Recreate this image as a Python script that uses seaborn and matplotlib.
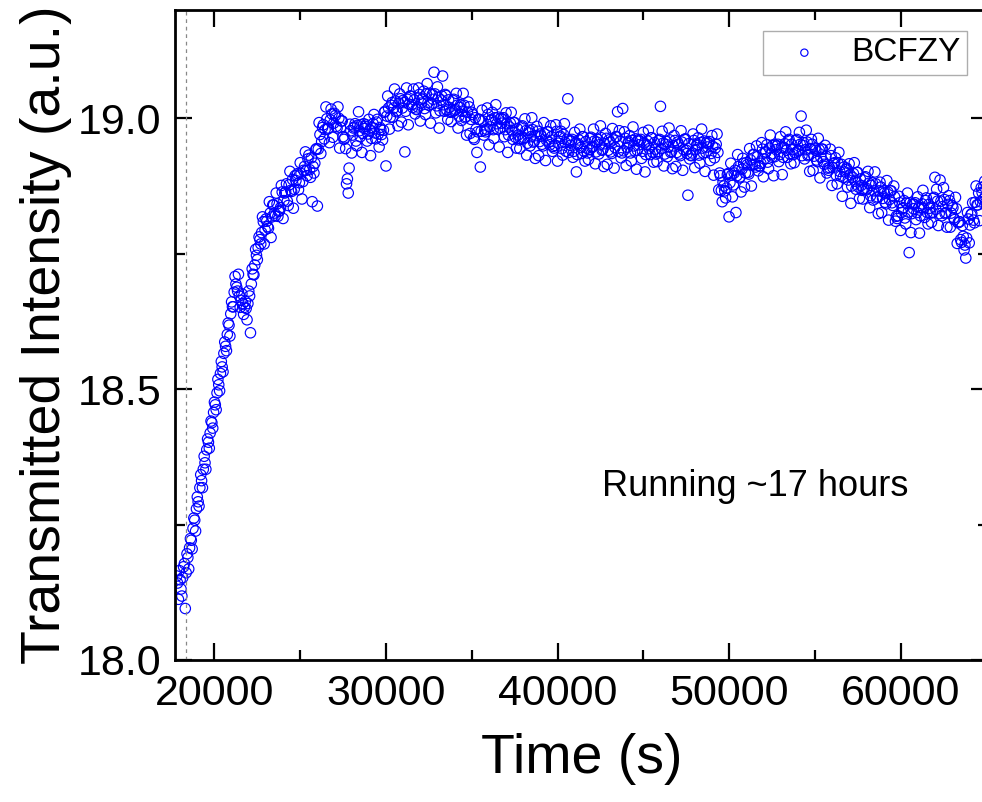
import numpy as np
import pandas as pd
import matplotlib
matplotlib.use("Agg")
import matplotlib.pyplot as plt
from matplotlib.ticker import MultipleLocator, FormatStrFormatter
import seaborn as sns

# Transmitted intensity.
# "spread" readings: every 100 s from 17800 s (the scattered edge of the band)
# "core" readings:   every 100 s from 17850 s (the dense middle of the band)
step = 100

spread_rise = [  # 17800 - 22700 s
    18.155, 18.112, 18.148, 18.118, 18.172, 18.095, 18.196, 18.168, 18.224, 18.205,
    18.262, 18.238, 18.301, 18.284, 18.342, 18.318, 18.376, 18.352, 18.408, 18.391,
    18.441, 18.428, 18.476, 18.462, 18.518, 18.497, 18.551, 18.532, 18.587, 18.571,
    18.622, 18.598, 18.661, 18.652, 18.708, 18.688, 18.712, 18.651, 18.676, 18.638,
    18.662, 18.628, 18.681, 18.604, 18.722, 18.711, 18.758, 18.739, 18.781, 18.768,
]
spread_mid = [  # 22800 - 40700 s
    18.818, 18.768, 18.814, 18.800, 18.846, 18.780, 18.840, 18.825, 18.862, 18.819,
    18.830, 18.876, 18.815, 18.862, 18.879, 18.839, 18.902, 18.865, 18.834, 18.894,
    18.895, 18.868, 18.918, 18.851, 18.904, 18.938, 18.894, 18.932, 18.891, 18.846,
    18.899, 18.942, 18.838, 18.992, 18.935, 18.983, 18.962, 19.021, 18.980, 18.955,
    19.017, 18.965, 19.009, 18.985, 19.021, 18.945, 18.995, 18.966, 18.964, 18.879,
    18.862, 18.989, 18.936, 18.982, 18.990, 18.949, 19.012, 18.966, 18.937, 18.990,
    18.985, 18.958, 18.998, 18.931, 18.983, 19.007, 18.962, 18.998, 18.947, 18.979,
    18.960, 19.011, 18.912, 19.041, 18.980, 19.024, 19.002, 19.054, 19.012, 18.986,
    19.045, 18.993, 19.033, 18.938, 19.056, 18.988, 19.041, 19.025, 19.054, 19.008,
    19.016, 19.056, 18.995, 19.035, 19.050, 19.007, 19.064, 19.024, 18.991, 19.044,
    19.085, 19.010, 19.058, 18.982, 19.034, 19.078, 19.013, 19.042, 18.998, 19.020,
    18.994, 19.033, 19.014, 19.046, 18.982, 19.020, 18.996, 19.046, 19.001, 18.969,
    19.030, 18.972, 19.011, 18.964, 19.001, 18.937, 18.998, 18.910, 19.015, 18.969,
    18.975, 19.019, 18.951, 18.996, 19.011, 18.963, 19.025, 18.980, 18.947, 19.000,
    18.998, 18.966, 19.010, 18.937, 18.984, 19.011, 18.961, 18.992, 18.945, 18.969,
    18.944, 18.984, 18.962, 18.999, 18.932, 18.973, 18.949, 19.001, 18.956, 18.926,
    18.985, 18.931, 18.971, 18.952, 18.992, 18.922, 18.975, 18.956, 18.986, 18.939,
    18.945, 18.988, 18.921, 18.965, 18.976, 18.932, 18.990, 18.939, 19.036, 18.959,
]
spread_late = [  # 40800 - 65000 s
    18.958, 18.928, 18.974, 18.901, 18.953, 18.980, 18.935, 18.966, 18.921, 18.945,
    18.924, 18.963, 18.946, 18.980, 18.916, 18.956, 18.934, 18.986, 18.941, 18.911,
    18.972, 18.915, 18.960, 18.938, 18.981, 18.908, 18.966, 19.012, 18.977, 18.927,
    19.018, 18.975, 18.913, 18.954, 18.968, 18.921, 18.984, 18.940, 18.906, 18.960,
    18.958, 18.926, 18.974, 18.901, 18.951, 18.978, 18.933, 18.964, 18.919, 18.943,
    18.920, 18.959, 19.022, 18.976, 18.912, 18.952, 18.929, 18.982, 18.937, 18.907,
    18.968, 18.911, 18.956, 18.934, 18.977, 18.904, 18.961, 18.941, 18.858, 18.925,
    18.931, 18.971, 18.909, 18.950, 18.964, 18.917, 18.980, 18.936, 18.902, 18.956,
    18.954, 18.922, 18.968, 18.895, 18.945, 18.971, 18.868, 18.894, 18.846, 18.875,
    18.853, 18.896, 18.818, 18.917, 18.855, 18.899, 18.826, 18.933, 18.890, 18.864,
    18.926, 18.873, 18.918, 18.900, 18.944, 18.875, 18.933, 18.915, 18.949, 18.903,
    18.912, 18.955, 18.892, 18.936, 18.951, 18.907, 18.969, 18.928, 18.894, 18.951,
    18.949, 18.920, 18.966, 18.896, 18.946, 18.975, 18.928, 18.961, 18.916, 18.942,
    18.918, 18.959, 18.939, 18.974, 19.004, 18.950, 18.925, 18.978, 18.931, 18.902,
    18.961, 18.904, 18.945, 18.923, 18.963, 18.890, 18.943, 18.920, 18.950, 18.899,
    18.904, 18.943, 18.876, 18.916, 18.927, 18.879, 18.937, 18.893, 18.856, 18.910,
    18.905, 18.873, 18.916, 18.843, 18.891, 18.918, 18.869, 18.900, 18.852, 18.876,
    18.851, 18.890, 18.868, 18.902, 18.835, 18.876, 18.849, 18.901, 18.853, 18.824,
    18.882, 18.826, 18.866, 18.845, 18.885, 18.812, 18.866, 18.844, 18.875, 18.810,
    18.815, 18.856, 18.793, 18.833, 18.848, 18.805, 18.862, 18.752, 18.789, 18.842,
    18.841, 18.813, 18.855, 18.788, 18.835, 18.867, 18.817, 18.853, 18.805, 18.834,
    18.808, 18.852, 18.891, 18.869, 18.802, 18.886, 18.820, 18.872, 18.824, 18.799,
    18.857, 18.799, 18.839, 18.816, 18.854, 18.769, 18.809, 18.776, 18.802, 18.757,
    18.742, 18.826, 18.770, 18.822, 18.844, 18.807, 18.875, 18.840, 18.811, 18.872,
    18.850, 18.884, 18.838,
]
core_early = [  # 17850 - 40750 s
    18.142, 18.165, 18.131, 18.152, 18.178, 18.161, 18.189, 18.207, 18.221, 18.243,
    18.258, 18.279, 18.292, 18.318, 18.331, 18.352, 18.364, 18.388, 18.402, 18.419,
    18.438, 18.457, 18.471, 18.493, 18.508, 18.529, 18.541, 18.566, 18.579, 18.601,
    18.618, 18.639, 18.652, 18.679, 18.694, 18.681, 18.672, 18.664, 18.658, 18.651,
    18.649, 18.658, 18.672, 18.694, 18.712, 18.729, 18.747, 18.761, 18.776, 18.789,
    18.809, 18.794, 18.810, 18.797, 18.825, 18.818, 18.840, 18.820, 18.842, 18.828,
    18.835, 18.864, 18.848, 18.864, 18.847, 18.877, 18.867, 18.887, 18.869, 18.885,
    18.898, 18.881, 18.898, 18.883, 18.911, 18.904, 18.925, 18.905, 18.927, 18.911,
    18.917, 18.944, 18.943, 18.970, 18.957, 18.988, 18.979, 18.999, 18.982, 18.997,
    19.008, 18.991, 19.005, 18.982, 19.000, 18.983, 18.995, 18.961, 18.944, 18.888,
    18.908, 18.977, 18.969, 18.984, 18.958, 18.987, 18.977, 18.988, 18.972, 18.981,
    18.988, 18.971, 18.978, 18.963, 18.990, 18.973, 18.993, 18.971, 18.983, 18.970,
    18.978, 19.013, 19.004, 19.019, 19.002, 19.029, 19.019, 19.032, 19.014, 19.028,
    19.036, 19.019, 19.029, 19.013, 19.035, 19.026, 19.041, 19.020, 19.034, 19.017,
    19.021, 19.044, 19.028, 19.037, 19.018, 19.045, 19.029, 19.046, 19.026, 19.035,
    19.045, 19.023, 19.038, 19.014, 19.041, 19.025, 19.044, 19.015, 19.034, 19.011,
    19.012, 19.035, 19.016, 19.024, 19.004, 19.025, 19.013, 19.024, 19.003, 19.011,
    19.021, 18.998, 19.007, 18.961, 18.980, 18.975, 18.998, 18.976, 18.995, 18.978,
    18.980, 19.007, 18.984, 18.998, 18.979, 19.001, 18.990, 19.002, 18.982, 18.991,
    19.001, 18.979, 18.990, 18.969, 18.991, 18.977, 18.992, 18.965, 18.981, 18.960,
    18.962, 18.986, 18.964, 18.977, 18.954, 18.978, 18.966, 18.979, 18.958, 18.968,
    18.976, 18.957, 18.967, 18.949, 18.971, 18.960, 18.975, 18.951, 18.966, 18.948,
    18.950, 18.976, 18.954, 18.967, 18.944, 18.970, 18.955, 18.961, 18.937, 18.950,
]
core_late = [  # 40850 - 64950 s
    18.961, 18.939, 18.954, 18.933, 18.960, 18.946, 18.966, 18.939, 18.957, 18.936,
    18.942, 18.965, 18.948, 18.958, 18.938, 18.961, 18.951, 18.964, 18.943, 18.953,
    18.963, 18.941, 18.956, 18.935, 18.960, 18.946, 18.966, 18.939, 18.957, 18.936,
    18.940, 18.963, 18.946, 18.956, 18.936, 18.959, 18.949, 18.962, 18.941, 18.951,
    18.961, 18.939, 18.954, 18.933, 18.958, 18.944, 18.964, 18.937, 18.955, 18.934,
    18.938, 18.961, 18.944, 18.954, 18.934, 18.957, 18.947, 18.960, 18.939, 18.949,
    18.959, 18.937, 18.952, 18.931, 18.956, 18.942, 18.962, 18.935, 18.953, 18.932,
    18.936, 18.959, 18.942, 18.952, 18.932, 18.955, 18.945, 18.958, 18.937, 18.947,
    18.957, 18.935, 18.948, 18.927, 18.952, 18.937, 18.899, 18.867, 18.882, 18.866,
    18.871, 18.898, 18.881, 18.895, 18.877, 18.904, 18.894, 18.911, 18.892, 18.906,
    18.917, 18.899, 18.914, 18.897, 18.923, 18.913, 18.933, 18.910, 18.929, 18.912,
    18.917, 18.943, 18.925, 18.938, 18.919, 18.945, 18.934, 18.950, 18.929, 18.942,
    18.952, 18.933, 18.946, 18.928, 18.953, 18.941, 18.959, 18.934, 18.952, 18.933,
    18.936, 18.961, 18.941, 18.952, 18.931, 18.955, 18.942, 18.956, 18.933, 18.944,
    18.952, 18.930, 18.941, 18.920, 18.942, 18.928, 18.943, 18.915, 18.930, 18.908,
    18.909, 18.931, 18.909, 18.918, 18.895, 18.917, 18.902, 18.915, 18.891, 18.901,
    18.908, 18.886, 18.896, 18.875, 18.898, 18.884, 18.900, 18.873, 18.888, 18.867,
    18.869, 18.892, 18.870, 18.880, 18.857, 18.881, 18.866, 18.879, 18.855, 18.866,
    18.873, 18.852, 18.862, 18.842, 18.864, 18.850, 18.866, 18.839, 18.855, 18.819,
    18.820, 18.844, 18.826, 18.835, 18.816, 18.843, 18.827, 18.844, 18.824, 18.833,
    18.844, 18.826, 18.835, 18.820, 18.842, 18.833, 18.848, 18.826, 18.841, 18.825,
    18.826, 18.854, 18.832, 18.847, 18.824, 18.847, 18.837, 18.850, 18.826, 18.841,
    18.848, 18.825, 18.835, 18.813, 18.833, 18.807, 18.809, 18.771, 18.782, 18.766,
    18.779, 18.814, 18.803, 18.824, 18.812, 18.845, 18.840, 18.862, 18.846, 18.863,
    18.874, 18.856,
]

spread = spread_rise + spread_mid + spread_late
core = core_early + core_late
df = pd.concat([
    pd.DataFrame({"Time": 17800 + step * np.arange(len(spread)), "Intensity": spread}),
    pd.DataFrame({"Time": 17850 + step * np.arange(len(core)), "Intensity": core}),
]).sort_values("Time")

start_line = 18350  # dashed line at the start of the run

sns.set_theme(style="ticks")
plt.rcParams["font.family"] = ["Liberation Sans", "DejaVu Sans"]
for key in ["text.color", "axes.labelcolor", "xtick.color", "ytick.color", "axes.edgecolor"]:
    plt.rcParams[key] = "black"

fig = plt.figure(figsize=(9.82, 8.02), dpi=100)
ax = fig.add_axes([0.1782, 0.1771, 0.828, 0.8105])

sns.scatterplot(data=df, x="Time", y="Intensity", ax=ax, marker="o", s=56,
                facecolors="none", edgecolor="#0000ff", linewidth=0.85,
                label="BCFZY")

ax.axvline(start_line, color="#888888", linestyle=(0, (3, 3)), linewidth=0.9)

ax.set_xlim(17700, 65100)
ax.set_ylim(18.0, 19.2)
ax.xaxis.set_major_locator(MultipleLocator(10000))
ax.xaxis.set_minor_locator(MultipleLocator(5000))
ax.yaxis.set_major_locator(MultipleLocator(0.5))
ax.yaxis.set_minor_locator(MultipleLocator(0.25))
ax.yaxis.set_major_formatter(FormatStrFormatter("%.1f"))

ax.tick_params(which="both", direction="in", top=True, right=True, width=1.6,
               color="black")
ax.tick_params(which="major", length=12, labelsize=31, pad=10)
ax.tick_params(which="minor", length=7)
for sp in ax.spines.values():
    sp.set_linewidth(2)
    sp.set_color("black")

ax.set_xlabel("Time (s)", fontsize=40, labelpad=14)
ax.set_ylabel("Transmitted Intensity (a.u.)", fontsize=40, labelpad=4)

ax.text(51500, 18.32, "Running ~17 hours", fontsize=26, ha="center", va="center")

leg = ax.legend(loc="upper right", bbox_to_anchor=(0.974, 0.968), borderaxespad=0,
                fontsize=24, frameon=True, fancybox=False, markerscale=0.7,
                handlelength=2.1, handletextpad=0.35, borderpad=0.2)
leg.get_frame().set_edgecolor("#999999")
leg.get_frame().set_linewidth(1)

fig.savefig("out.png", dpi=100)
